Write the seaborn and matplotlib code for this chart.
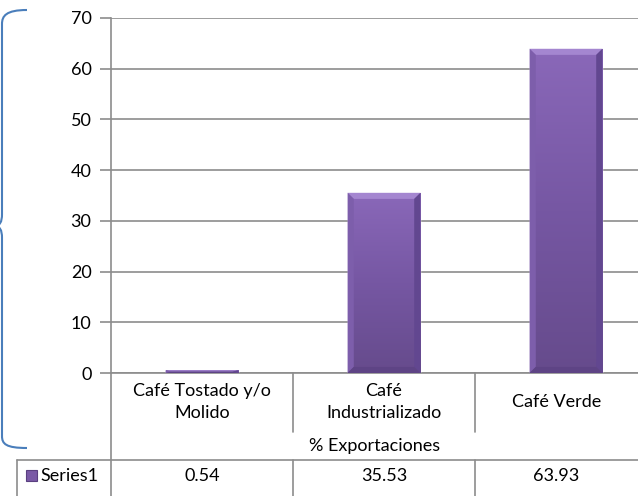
import numpy as np
import pandas as pd
import matplotlib
matplotlib.use('Agg')
import matplotlib.pyplot as plt
import matplotlib.transforms as mtrans
import seaborn as sns
from matplotlib.lines import Line2D
from matplotlib.patches import Rectangle, Polygon, PathPatch
from matplotlib.path import Path
from matplotlib.colors import LinearSegmentedColormap

categorias = ['Café Tostado y/o\nMolido', 'Café\nIndustrializado', 'Café Verde']
valores = [0.54, 35.53, 63.93]
etiquetas_valor = ['0.54', '35.53', '63.93']
serie = 'Series1'
titulo_eje = '% Exportaciones'
yticks = [0, 10, 20, 30, 40, 50, 60, 70]

sns.set_theme(style='white')
plt.rcParams['font.family'] = ['Lato', 'DejaVu Sans']

W, H = 638, 496
fig = plt.figure(figsize=(W / 100, H / 100), dpi=100)
fig.patch.set_facecolor('white')

def fx(x):
    return x / W

def fy(y):
    return 1 - y / H

gris = '#8c8c8c'
ax = fig.add_axes([fx(111), fy(373), fx(657) - fx(111), fy(18) - fy(373)])
frame = pd.DataFrame({'cat': categorias, 'val': valores})
sns.barplot(data=frame, x='cat', y='val', color='#7b5ba6', width=0.4,
            saturation=1, ax=ax, zorder=3)

# degradado + bisel en cada barra
cmap = LinearSegmentedColormap.from_list('morado', ['#8a68b9', '#7657a3', '#664b8c'])
grad = np.linspace(0, 1, 256).reshape(-1, 1)
bw, bh_max = 0.034, 1.2
for p in ax.patches:
    x0, y0, w, h = p.get_x(), p.get_y(), p.get_width(), p.get_height()
    x1, y1 = x0 + w, y0 + h
    im = ax.imshow(grad, cmap=cmap, extent=(x0, x1, y0, y1), origin='upper',
                   aspect='auto', zorder=3.1)
    im.set_clip_path(p)
    bh = min(bh_max, h / 2)
    ax.add_patch(Polygon([(x0, y1), (x1, y1), (x1 - bw, y1 - bh), (x0 + bw, y1 - bh)],
                         closed=True, color='#a486d0', lw=0, zorder=3.2))
    ax.add_patch(Polygon([(x1, y1), (x1, y0), (x1 - bw, y0 + bh), (x1 - bw, y1 - bh)],
                         closed=True, color='#624790', lw=0, zorder=3.2))
    ax.add_patch(Polygon([(x0, y1), (x0, y0), (x0 + bw, y0 + bh), (x0 + bw, y1 - bh)],
                         closed=True, color='#7d5eab', lw=0, zorder=3.2))
    ax.add_patch(Polygon([(x0, y0), (x1, y0), (x1 - bw, y0 + bh), (x0 + bw, y0 + bh)],
                         closed=True, color='#5e4485', lw=0, zorder=3.2))

ax.set_xlim(-0.5, 2.5)
ax.set_ylim(0, 70)
ax.set_yticks(yticks)
ax.set_xlabel('')
ax.set_ylabel('')
ax.set_xticklabels([])
ax.tick_params(axis='x', length=0)
ax.tick_params(axis='y', left=True, length=8, width=1.2, color=gris, pad=6,
               labelsize=13, labelcolor='black')
ax.yaxis.grid(True, color=gris, lw=1.2, zorder=0)
ax.set_axisbelow(True)
for s in ['top', 'right']:
    ax.spines[s].set_visible(False)
for s in ['left', 'bottom']:
    ax.spines[s].set_color(gris)
    ax.spines[s].set_linewidth(1.2)

# tabla de datos debajo
px = mtrans.Affine2D().scale(1 / W, -1 / H).translate(0, 1) + fig.transFigure
mix = mtrans.blended_transform_factory(ax.transData, px)

def linea(xs, ys, tr):
    fig.add_artist(Line2D(xs, ys, transform=tr, color=gris, lw=1.2))

linea([17, 638], [460, 460], px)
linea([17, 17], [460, 496], px)
linea([111, 111], [373, 496], px)
for b in [0.5, 1.5]:
    linea([b, b], [373, 432], mix)
    linea([b, b], [460, 496], mix)

x_borde = ax.transData.inverted().transform((W, 0))[0]
centros = [0, 1, (1.5 + x_borde) / 2]
for c, cat, v in zip(centros, categorias, etiquetas_valor):
    fig.text(c, 402, cat, transform=mix, ha='center', va='center', fontsize=13,
             linespacing=1.5, color='black')
    fig.text(c, 476, v, transform=mix, ha='center', va='center', fontsize=13,
             color='black')
fig.text((-0.5 + x_borde) / 2, 446, titulo_eje, transform=mix, ha='center',
         va='center', fontsize=13, color='black')

fig.add_artist(Rectangle((26, 481), 11, -11, transform=px, facecolor='#7a5aa6',
                         edgecolor='#5a4080', lw=0.8))
fig.text(40, 476, serie, transform=px, ha='left', va='center', fontsize=13,
         color='black')

# llave azul a la izquierda
verts = [(27, 10), (6, 10), (2, 16), (2, 24),
         (2, 214),
         (2, 222), (0, 226), (-6, 226),
         (0, 226), (2, 230), (2, 238),
         (2, 436),
         (2, 444), (6, 448), (27, 448)]
codes = [Path.MOVETO, Path.CURVE4, Path.CURVE4, Path.CURVE4,
         Path.LINETO,
         Path.CURVE4, Path.CURVE4, Path.CURVE4,
         Path.CURVE4, Path.CURVE4, Path.CURVE4,
         Path.LINETO,
         Path.CURVE4, Path.CURVE4, Path.CURVE4]
fig.add_artist(PathPatch(Path(verts, codes), transform=px, facecolor='none',
                         edgecolor='#4a7ebb', lw=1.5))

fig.savefig('out.png', dpi=100)
